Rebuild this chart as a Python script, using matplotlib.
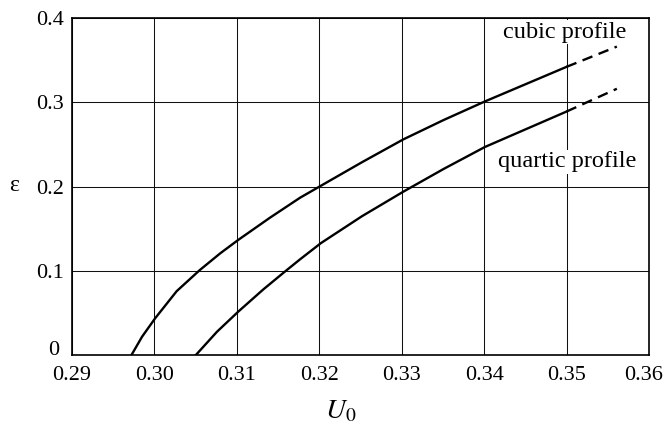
import matplotlib.pyplot as plt
from matplotlib.transforms import ScaledTranslation

plt.rcParams["font.family"] = ["Liberation Serif", "DejaVu Serif"]
plt.rcParams["mathtext.fontset"] = "stix"

# eps vs U0
cubic_u = [0.2972, 0.2985, 0.3001, 0.3027, 0.3055, 0.3080, 0.3102, 0.3140,
           0.3177, 0.3202, 0.3252, 0.3302, 0.3351, 0.3401, 0.3500]
cubic_eps = [0.000, 0.022, 0.044, 0.076, 0.101, 0.121, 0.137, 0.163,
             0.187, 0.201, 0.229, 0.256, 0.279, 0.301, 0.342]
cubic_ext_u = [0.3500, 0.3561]
cubic_ext_eps = [0.342, 0.366]

quartic_u = [0.3050, 0.3076, 0.3102, 0.3132, 0.3158, 0.3177, 0.3202, 0.3252,
             0.3302, 0.3351, 0.3401, 0.3500]
quartic_eps = [0.000, 0.028, 0.052, 0.078, 0.099, 0.114, 0.133, 0.165,
               0.194, 0.221, 0.247, 0.289]
quartic_ext_u = [0.3500, 0.3561]
quartic_ext_eps = [0.289, 0.316]

x_ticks = [0.29, 0.30, 0.31, 0.32, 0.33, 0.34, 0.35, 0.36]
x_labels = ["0.29", "0.30", "0.31", "0.32", "0.33", "0.34", "0.35", "0.36"]
y_ticks = [0.0, 0.1, 0.2, 0.3, 0.4]
y_labels = ["0", "0.1", "0.2", "0.3", "0.4"]

fig = plt.figure(figsize=(6.64, 4.37), dpi=100)
ax = fig.add_axes([0.1084, 0.187, 0.869, 0.772])

for u, e in [(cubic_u, cubic_eps), (quartic_u, quartic_eps)]:
    ax.plot(u, e, color="black", lw=1.7, solid_joinstyle="round")
for u, e in [(cubic_ext_u, cubic_ext_eps), (quartic_ext_u, quartic_ext_eps)]:
    ax.plot(u, e, color="black", lw=1.7, dashes=(4.5, 2.8))

ax.set_xlim(0.29, 0.36)
ax.set_ylim(0, 0.4)
ax.set_xticks(x_ticks)
ax.set_xticklabels(x_labels)
ax.set_yticks(y_ticks)
ax.set_yticklabels(y_labels)
ax.tick_params(length=0, labelsize=16)
ax.tick_params(axis="x", pad=8)
ax.tick_params(axis="y", pad=6)
ax.grid(True, color="#111111", lw=0.75)
ax.set_axisbelow(True)
for s in ax.spines.values():
    s.set_linewidth(1.2)

# nudge the corner labels: "0.36" in from the edge, "0" up off the x axis
last_x = ax.get_xticklabels()[-1]
last_x.set_transform(last_x.get_transform() + ScaledTranslation(-5 / 100, 0, fig.dpi_scale_trans))
first_y = ax.get_yticklabels()[0]
first_y.set_transform(first_y.get_transform() + ScaledTranslation(-4 / 100, 7 / 100, fig.dpi_scale_trans))

ax.text(0.3423, 0.383, "cubic profile", fontsize=17.5, ha="left", va="center",
        bbox=dict(facecolor="white", edgecolor="none", pad=1))
ax.text(0.3417, 0.2297, "quartic profile", fontsize=17.5, ha="left", va="center",
        bbox=dict(facecolor="white", edgecolor="none", pad=1))

fig.text(14 / 664, 1 - 186 / 437, "ε", fontsize=17, ha="center", va="center")
fig.text(341 / 664, 1 - 412 / 437, r"$U_0$", fontsize=20, ha="center", va="center")

fig.savefig("out.png", dpi=100)
